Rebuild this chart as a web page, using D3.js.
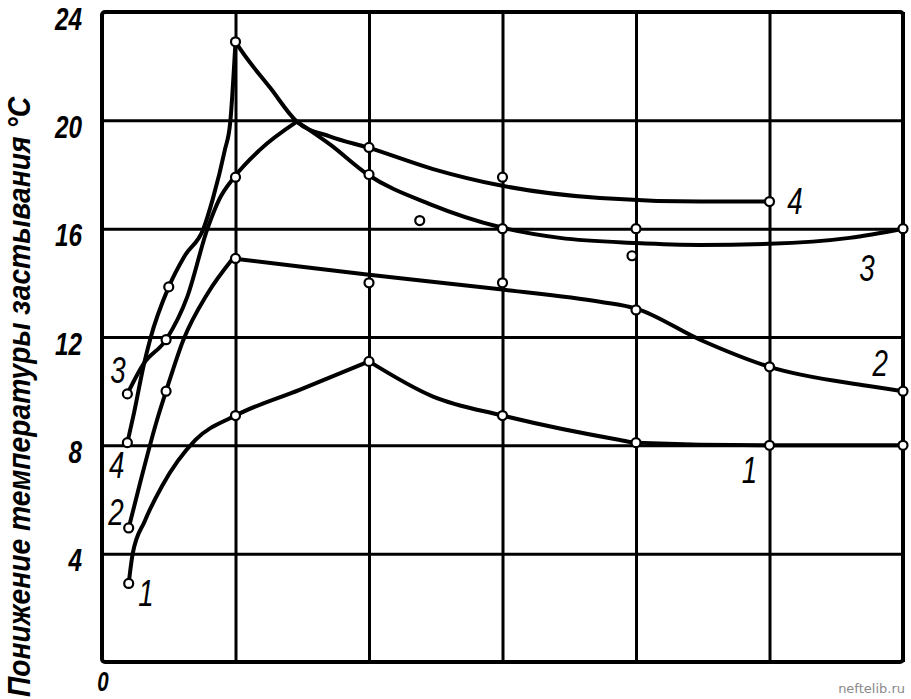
<!DOCTYPE html>
<html><head><meta charset="utf-8">
<script src="https://cdn.jsdelivr.net/npm/d3@7"></script>
<style>
html,body{margin:0;padding:0;background:#fff;}
svg{display:block;}
</style></head><body>
<svg id="chart" width="911" height="699"></svg>
<script>
// ---------- data ----------
const xTicks = [0, 1, 2, 3, 4, 5, 6];
const yTicks = [4, 8, 12, 16, 20, 24];
const originLabel = "0";
const yTitle = "Понижение температуры застывания °C";
const watermark = "neftelib.ru";
const seriesNames = ["1", "2", "3", "4"];

// points [x, y]
const curve1 = [[0.2,2.9],[0.23,4.0],[0.32,5.2],[0.45,6.5],[0.7,8.2],[1.0,9.1],[1.48,10.05],[2.0,11.1],[2.48,9.8],[3.0,9.1],[3.88,8.2],[4.0,8.1],[5.0,8.0],[6.0,8.0]];
const curve2 = [[0.2,4.95],[0.29,6.7],[0.41,8.9],[0.48,10.0],[0.61,11.9],[0.79,13.6],[0.98,14.9],[1.48,14.6],[2.0,14.3],[3.0,13.75],[3.73,13.3],[4.0,13.05],[4.48,11.9],[5.0,10.9],[5.73,10.2],[6.0,10.0]];
const curve3 = [[0.19,9.9],[0.31,11.0],[0.48,11.9],[0.64,13.5],[0.79,16.0],[0.88,17.1],[0.99,17.9],[1.18,18.9],[1.46,19.95],[1.71,19.1],[1.99,18.0],[2.46,16.9],[2.98,16.06],[3.43,15.66],[4.0,15.47],[4.48,15.4],[5.0,15.44],[5.6,15.66],[6.0,16.0]];
const curve4 = [[0.19,8.1],[0.24,9.2],[0.31,10.9],[0.36,11.9],[0.5,13.85],[0.62,15.0],[0.76,16.0],[0.83,17.1],[0.92,18.9],[0.96,19.9],[1.0,22.9],[1.04,22.6],[1.26,21.2],[1.46,19.95],[1.71,19.4],[1.99,19.0],[2.48,18.2],[2.98,17.6],[3.73,17.13],[4.48,17.0],[5.0,17.0]];

// measured points (open circles)
const marks1 = [[0.2,2.9],[1,9.1],[2,11.1],[3,9.1],[4,8.1],[5,8.0],[6,8.0]];
const marks2 = [[0.2,4.95],[0.48,10.0],[1,14.9],[2,14.0],[3,14.0],[4,13.0],[5,10.9],[6,10.0]];
const marks3 = [[0.19,9.9],[0.48,11.9],[1,17.9],[2,18.0],[3,16.0],[4,16.0],[3.97,15.0],[6,16.0]];
const marks4 = [[0.19,8.1],[0.5,13.85],[1,22.9],[2,19.0],[3,17.9],[5,17.0]];
const marksExtra = [[2.38,16.3]];

// curve number labels, placed at [x, y] in data units
const labelsStart = [[0.33,2.55],[0.105,5.55],[0.12,10.8],[0.11,7.3]];
const labelsEnd   = [[4.85,7.1],[5.83,11.05],[5.73,14.55],[5.19,17.05]];

// ---------- drawing ----------
const svg = d3.select("#chart");
const margin = {left: 102, top: 12, right: 8, bottom: 37};
const W = 911 - margin.left - margin.right;
const H = 699 - margin.top - margin.bottom;
const x = d3.scaleLinear().domain([0, 6]).range([0, W]);
const y = d3.scaleLinear().domain([0, 24]).range([H, 0]);
const g = svg.append("g").attr("transform", `translate(${margin.left},${margin.top})`);
const FONT = "'Liberation Sans', Arial, sans-serif";

// vertical grid
const gx = g.append("g").attr("transform", `translate(0,${H})`)
  .call(d3.axisBottom(x).tickValues(xTicks).tickSize(-H).tickFormat(""));
gx.select(".domain").remove();
gx.selectAll("line").attr("stroke", "#000").attr("stroke-width", 3);

// horizontal grid + labels
const gy = g.append("g")
  .call(d3.axisLeft(y).tickValues(yTicks).tickSize(-W).tickPadding(0));
gy.select(".domain").remove();
gy.selectAll("line").attr("stroke", "#000").attr("stroke-width", 3);
const sx = 0.76;
gy.selectAll("text")
  .attr("x", -20 / sx)
  .attr("dy", null)
  .attr("y", 17)
  .attr("transform", `scale(${sx},1)`)
  .attr("text-anchor", "end")
  .style("font-family", FONT)
  .style("font-style", "italic")
  .style("font-weight", "bold")
  .style("font-size", "32px")
  .attr("fill", "#000");

// origin label
g.append("text")
  .attr("transform", `translate(${x(0) + 1},${H + 29}) scale(${sx},1)`)
  .attr("text-anchor", "middle")
  .style("font-family", FONT)
  .style("font-style", "italic").style("font-weight", "bold")
  .style("font-size", "27px")
  .text(originLabel);

// frame
g.append("rect").attr("x", 0).attr("y", 0).attr("width", W).attr("height", H)
  .attr("rx", 3).attr("fill", "none").attr("stroke", "#000").attr("stroke-width", 4);

// curves (split at each curve's peak so the peak stays a sharp corner)
const line = d3.line().x(d => x(d[0])).y(d => y(d[1])).curve(d3.curveMonotoneX);
[curve1, curve2, curve3, curve4].forEach(c => {
  const k = d3.maxIndex(c, d => d[1]);
  [c.slice(0, k + 1), c.slice(k)].forEach(seg => {
    if (seg.length < 2) return;
    g.append("path").datum(seg).attr("d", line)
      .attr("fill", "none").attr("stroke", "#000").attr("stroke-width", 4)
      .attr("stroke-linejoin", "round").attr("stroke-linecap", "round");
  });
});

// markers
[marks1, marks2, marks3, marks4, marksExtra].forEach(m => {
  g.selectAll(null).data(m).enter().append("circle")
    .attr("cx", d => x(d[0])).attr("cy", d => y(d[1])).attr("r", 4.5)
    .attr("fill", "#fff").attr("stroke", "#000").attr("stroke-width", 2.2);
});

// curve labels
function curveLabel(p, name) {
  g.append("text")
    .attr("transform", `translate(${x(p[0])},${y(p[1])}) scale(0.75,1)`)
    .attr("text-anchor", "middle").attr("dy", "0.36em")
    .style("font-family", FONT)
    .style("font-style", "italic")
    .style("font-size", "37px")
    .text(name);
}
labelsStart.forEach((p, i) => curveLabel(p, seriesNames[i]));
labelsEnd.forEach((p, i) => curveLabel(p, seriesNames[i]));

// y title
svg.append("text")
  .attr("transform", "translate(30,697) rotate(-90)")
  .attr("text-anchor", "start")
  .attr("textLength", 600).attr("lengthAdjust", "spacingAndGlyphs")
  .style("font-family", FONT)
  .style("font-style", "italic").style("font-weight", "bold")
  .style("font-size", "32px")
  .text(yTitle);

// watermark
svg.append("text")
  .attr("x", 905).attr("y", 693).attr("text-anchor", "end")
  .style("font-family", "'DejaVu Sans', sans-serif")
  .style("font-size", "13px").attr("fill", "#8a8a8a")
  .text(watermark);
</script>
</body></html>
